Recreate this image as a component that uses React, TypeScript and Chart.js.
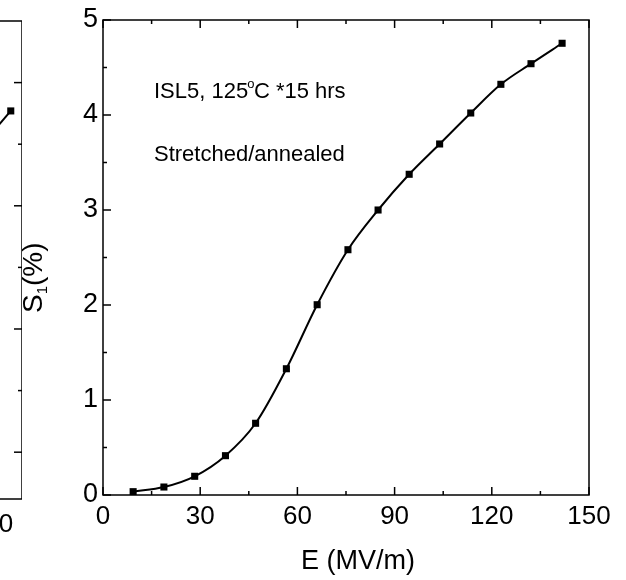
import React, { useEffect, useRef } from "react";
import { Chart, registerables } from "chart.js";

Chart.register(...registerables);

// ---- main panel data ----
const eField = [9.3, 18.8, 28.3, 37.8, 47.1, 56.6, 66.1, 75.6, 84.9, 94.5, 103.9, 113.5, 122.8, 132.1, 141.7];
const strain = [0.035, 0.084, 0.197, 0.414, 0.755, 1.329, 2.003, 2.582, 3.0, 3.376, 3.695, 4.021, 4.323, 4.54, 4.755];
const xTicks = [0, 30, 60, 90, 120, 150];
const xMinorTicks = [15, 45, 75, 105, 135];
const yTicks = [0, 1, 2, 3, 4, 5];
const yMinorTicks = [0.5, 1.5, 2.5, 3.5, 4.5];
const annotationLine1 = ["ISL5, 125", "o", "C *15 hrs"];
const annotationLine2 = "Stretched/annealed";
const xTitle = "E (MV/m)";
const yTitle = ["S", "1", "(%)"];

// ---- neighbouring panel (cut off at the left edge) ----
const prevE = [147.0, 156.3];
const prevS = [2.5, 2.77];
const prevXTicks = [0, 30, 60, 90, 120, 150];
const prevYTicks = [0, 1, 2, 3];
const prevYMinorTicks = [0.5, 1.5, 2.5];

const FONT = '"Liberation Sans", Arial, sans-serif';

const frameTicks = {
  id: "frameTicks",
  afterDraw(chart: any, _args: any, opts: any) {
    const { ctx, chartArea: a, scales } = chart;
    const x = scales.x;
    const y = scales.y;
    ctx.save();
    ctx.strokeStyle = "#000";
    ctx.lineWidth = 1.5;
    ctx.strokeRect(a.left, a.top, a.right - a.left, a.bottom - a.top);
    const line = (x1: number, y1: number, x2: number, y2: number) => {
      ctx.beginPath();
      ctx.moveTo(x1, y1);
      ctx.lineTo(x2, y2);
      ctx.stroke();
    };
    const xt = (vals: number[], len: number) =>
      vals.forEach((v) => {
        const px = x.getPixelForValue(v);
        if (opts.bottom) line(px, a.bottom, px, a.bottom - len);
        if (opts.top) line(px, a.top, px, a.top + len);
      });
    const yt = (vals: number[], len: number) =>
      vals.forEach((v) => {
        const py = y.getPixelForValue(v);
        if (opts.left) line(a.left, py, a.left + len, py);
        if (opts.right) line(a.right, py, a.right - len, py);
      });
    xt(opts.xMajor, 8);
    xt(opts.xMinor, 4);
    yt(opts.yMajor, 8);
    yt(opts.yMinor, 4);
    ctx.restore();
  },
};

const textLayer = {
  id: "textLayer",
  afterDraw(chart: any) {
    const { ctx } = chart;
    ctx.save();
    ctx.fillStyle = "#000";
    ctx.textBaseline = "alphabetic";
    ctx.textAlign = "left";
    // annotation line 1 with degree sign as superscript o
    ctx.font = `22px ${FONT}`;
    let px = 154;
    const base1 = 97.5;
    ctx.fillText(annotationLine1[0], px, base1);
    px += ctx.measureText(annotationLine1[0]).width;
    ctx.font = `13px ${FONT}`;
    ctx.fillText(annotationLine1[1], px - 1, base1 - 10);
    px += ctx.measureText(annotationLine1[1]).width - 1.5;
    ctx.font = `22px ${FONT}`;
    ctx.fillText(annotationLine1[2], px, base1);
    ctx.fillText(annotationLine2, 154, 160.5);

    // x title
    ctx.font = `27px ${FONT}`;
    ctx.textAlign = "center";
    ctx.textBaseline = "middle";
    ctx.fillText(xTitle, 358, 562);

    // y title, rotated, with subscript
    ctx.translate(42, 313);
    ctx.rotate(-Math.PI / 2);
    ctx.textAlign = "left";
    ctx.textBaseline = "alphabetic";
    ctx.font = `28px ${FONT}`;
    let tx = 0;
    ctx.fillText(yTitle[0], tx, 0);
    tx += ctx.measureText(yTitle[0]).width;
    ctx.font = `15px ${FONT}`;
    ctx.fillText(yTitle[1], tx, 5);
    tx += ctx.measureText(yTitle[1]).width;
    ctx.font = `28px ${FONT}`;
    ctx.fillText(yTitle[2], tx, 0);
    ctx.restore();
  },
};

function MainChart() {
  const ref = useRef<HTMLCanvasElement>(null);
  useEffect(() => {
    const chart = new Chart(ref.current as HTMLCanvasElement, {
      type: "line",
      data: {
        datasets: [
          {
            data: eField.map((v, i) => ({ x: v, y: strain[i] })),
            borderColor: "#000",
            backgroundColor: "#000",
            borderWidth: 2,
            cubicInterpolationMode: "monotone",
            pointStyle: "rect",
            pointRadius: 5,
            pointBorderWidth: 0,
            pointBackgroundColor: "#000",
          },
        ],
      },
      options: {
        animation: false,
        responsive: false,
        maintainAspectRatio: false,
        devicePixelRatio: 1,
        layout: { autoPadding: false, padding: { left: 0, right: 37, top: 20, bottom: 0 } },
        plugins: {
          legend: { display: false },
          tooltip: { enabled: false },
          frameTicks: {
            bottom: true,
            top: true,
            left: true,
            right: false,
            xMajor: xTicks,
            xMinor: xMinorTicks,
            yMajor: yTicks,
            yMinor: yMinorTicks,
          },
        } as any,
        scales: {
          x: {
            type: "linear",
            min: 0,
            max: 150,
            grid: { display: false, drawTicks: false },
            border: { display: false },
            afterBuildTicks: (s: any) => {
              s.ticks = xTicks.map((v) => ({ value: v }));
            },
            afterFit: (s: any) => {
              s.height = 85;
              s.paddingLeft = 0;
              s.paddingRight = 0;
            },
            ticks: {
              color: "#000",
              font: { family: FONT, size: 26 },
              padding: 6,
              maxRotation: 0,
              autoSkip: false,
              callback: (v: any) => String(v),
            },
          },
          y: {
            type: "linear",
            min: 0,
            max: 5,
            grid: { display: false, drawTicks: false },
            border: { display: false },
            afterBuildTicks: (s: any) => {
              s.ticks = yTicks.map((v) => ({ value: v }));
            },
            afterFit: (s: any) => {
              s.width = 103;
              s.paddingTop = 0;
              s.paddingBottom = 0;
            },
            ticks: {
              color: "#000",
              font: { family: FONT, size: 27 },
              padding: 5,
              callback: (v: any) => String(v),
            },
          },
        },
      },
      plugins: [frameTicks, textLayer],
    } as any);
    return () => chart.destroy();
  }, []);
  return (
    <canvas
      ref={ref}
      width={626}
      height={580}
      style={{ position: "absolute", left: 0, top: 0, width: 626, height: 580 }}
    />
  );
}

function PrevPanel() {
  const ref = useRef<HTMLCanvasElement>(null);
  useEffect(() => {
    const chart = new Chart(ref.current as HTMLCanvasElement, {
      type: "line",
      data: {
        datasets: [
          {
            data: prevE.map((v, i) => ({ x: v, y: prevS[i] })),
            borderColor: "#000",
            backgroundColor: "#000",
            borderWidth: 2,
            pointStyle: "rect",
            pointRadius: [0, 5],
            pointBorderWidth: 0,
            pointBackgroundColor: "#000",
          },
        ],
      },
      options: {
        animation: false,
        responsive: false,
        maintainAspectRatio: false,
        devicePixelRatio: 1,
        layout: { autoPadding: false, padding: { left: 74, right: 0, top: 21, bottom: 0 } },
        plugins: {
          legend: { display: false },
          tooltip: { enabled: false },
          frameTicks: {
            bottom: true,
            top: true,
            left: false,
            right: true,
            xMajor: prevXTicks,
            xMinor: [],
            yMajor: prevYTicks,
            yMinor: prevYMinorTicks,
          },
        } as any,
        scales: {
          x: {
            type: "linear",
            min: 0,
            max: 160,
            grid: { display: false, drawTicks: false },
            border: { display: false },
            afterBuildTicks: (s: any) => {
              s.ticks = prevXTicks.map((v) => ({ value: v }));
            },
            afterFit: (s: any) => {
              s.height = 81;
              s.paddingLeft = 0;
              s.paddingRight = 0;
            },
            ticks: {
              color: "#000",
              font: { family: FONT, size: 26 },
              padding: 10,
              maxRotation: 0,
              autoSkip: false,
              callback: (v: any) => String(v),
            },
          },
          y: {
            type: "linear",
            display: false,
            min: -0.38,
            max: 3.5,
          },
        },
      },
      plugins: [frameTicks],
    } as any);
    return () => chart.destroy();
  }, []);
  return (
    <canvas
      ref={ref}
      width={560}
      height={580}
      style={{ position: "absolute", left: -538, top: 0, width: 560, height: 580 }}
    />
  );
}

export default function App() {
  return (
    <div
      style={{
        position: "absolute",
        left: 0,
        top: 0,
        width: 626,
        height: 580,
        overflow: "hidden",
        background: "#fff",
      }}
    >
      <PrevPanel />
      <MainChart />
    </div>
  );
}
